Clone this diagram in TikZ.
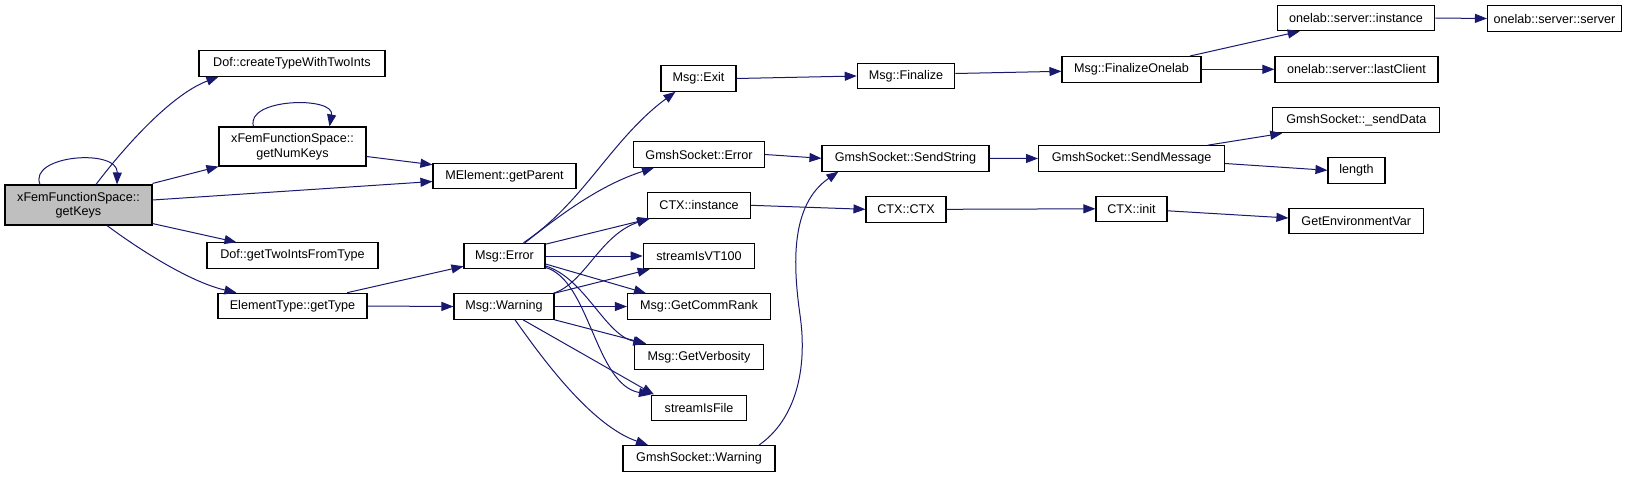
\documentclass[tikz,border=0pt]{standalone}
\usepackage{fontspec}
\setmainfont{Liberation Sans}
\usetikzlibrary{arrows.meta}
\definecolor{edgeblue}{RGB}{25,25,112}
\definecolor{focusgray}{RGB}{191,191,191}

\begin{document}
\begin{tikzpicture}[x=1pt,y=-1pt,
  fn/.style={draw=black,line width=1.1pt,fill=white,inner sep=0pt,minimum height=25.5pt,align=center,font=\fontsize{12.6}{14.5}\selectfont},
  call/.style={edgeblue,line width=1pt,-{Triangle[length=12pt,width=9pt]}}]
\useasboundingbox[fill=white] (0,0) rectangle (1637,477);
% Functions
\node[fn,fill=focusgray,minimum width=147pt,minimum height=40pt] (getKeys) at (78.5,205) {xFemFunctionSpace::\\getKeys};
\node[fn,minimum width=186pt] (createType) at (292,63.5) {Dof::createTypeWithTwoInts};
\node[fn,minimum width=147pt,minimum height=39pt] (getNumKeys) at (292.5,146.5) {xFemFunctionSpace::\\getNumKeys};
\node[fn,minimum width=143pt] (getParent) at (504.5,176) {MElement::getParent};
\node[fn,minimum width=171pt] (getTwoInts) at (292.5,255.5) {Dof::getTwoIntsFromType};
\node[fn,minimum width=149pt] (getType) at (292.5,306) {ElementType::getType};
\node[fn,minimum width=81pt] (msgError) at (504.5,256) {Msg::Error};
\node[fn,minimum width=100pt] (msgWarning) at (504,306.5) {Msg::Warning};
\node[fn,minimum width=75pt] (msgExit) at (698.5,78.5) {Msg::Exit};
\node[fn,minimum width=97.5pt] (msgFinalize) at (906,76) {Msg::Finalize};
\node[fn,minimum width=131pt] (gsError) at (699,154.5) {GmshSocket::Error};
\node[fn,minimum width=167pt] (sendString) at (905.5,158.3) {GmshSocket::SendString};
\node[fn,minimum width=103pt] (ctxInstance) at (699,205.3) {CTX::instance};
\node[fn,minimum width=80pt] (ctxCtx) at (906,209.3) {CTX::CTX};
\node[fn,minimum width=111.6pt] (vt100) at (699,256) {streamIsVT100};
\node[fn,minimum width=143pt] (commRank) at (699,306.5) {Msg::GetCommRank};
\node[fn,minimum width=128.4pt] (verbosity) at (699,357) {Msg::GetVerbosity};
\node[fn,minimum width=95pt] (isFile) at (699,407.8) {streamIsFile};
\node[fn,minimum width=152pt] (gsWarning) at (699,458.3) {GmshSocket::Warning};
\node[fn,minimum width=139pt] (finalizeOnelab) at (1131.5,69.3) {Msg::FinalizeOnelab};
\node[fn,minimum width=186pt] (sendMessage) at (1131.6,158.5) {GmshSocket::SendMessage};
\node[fn,minimum width=71pt] (ctxInit) at (1131.5,208.8) {CTX::init};
\node[fn,minimum width=157.5pt] (osInstance) at (1356,18) {onelab::server::instance};
\node[fn,minimum width=134pt] (osServer) at (1554.5,18.5) {onelab::server::server};
\node[fn,minimum width=163pt] (lastClient) at (1356.5,69.3) {onelab::server::lastClient};
\node[fn,minimum width=167pt] (sendData) at (1356.3,120) {GmshSocket::\_sendData};
\node[fn,minimum width=57pt] (len) at (1356.5,170.3) {length};
\node[fn,minimum width=134.7pt] (getEnv) at (1356.3,221) {GetEnvironmentVar};
% Calls from getKeys
\draw[call] ([xshift=-38.5pt]getKeys.north) .. controls (28,155) and (118,148) .. ([xshift=38.5pt]getKeys.north);
\draw[call] ([xshift=17.5pt]getKeys.north) .. controls (122,150) and (170,95) .. ([xshift=20pt]createType.south west);
\draw[call] ([yshift=1pt]getKeys.north east) -- (getNumKeys.south west);
\draw[call] ([yshift=5pt]getKeys.east) -- ([yshift=-5.5pt]getParent.west);
\draw[call] ([yshift=2pt]getKeys.south east) -- ([xshift=30pt]getTwoInts.north west);
\draw[call] ([xshift=28.5pt]getKeys.south) .. controls (140,250) and (190,282) .. ([xshift=19pt]getType.north west);
% Calls from getNumKeys and getType
\draw[call] ([xshift=-39pt]getNumKeys.north) .. controls (245,98) and (335,96) .. ([xshift=37pt]getNumKeys.north);
\draw[call] ([yshift=-10pt]getNumKeys.east) -- ([yshift=-2pt]getParent.north west);
\draw[call] ([xshift=-20.5pt]getType.north east) -- ([yshift=3pt]msgError.south west);
\draw[call] (getType.east) -- (msgWarning.west);
% Calls from Msg::Error
\draw[call] ([xshift=19pt]msgError.north) .. controls (583.6,202.7) and (611.3,139.2) .. ([xshift=15pt]msgExit.south west);
\draw[call] ([xshift=20.5pt]msgError.north) .. controls (560,215) and (600,185) .. ([xshift=21pt]gsError.south west);
\draw[call] ([yshift=-1.5pt]msgError.north east) -- ([xshift=3pt]ctxInstance.south west);
\draw[call] (msgError.east) -- (vt100.west);
\draw[call] ([yshift=-8pt]msgError.east) -- ([xshift=19pt]commRank.north west);
\draw[call] ([yshift=-10pt]msgError.east) .. controls (585,278) and (605,335) .. ([xshift=11pt]verbosity.north west);
\draw[call] ([yshift=-11.5pt]msgError.east) .. controls (590,280) and (595,385) .. (isFile.north west);
% Calls from Msg::Warning
\draw[call] ([xshift=-1pt]msgWarning.north east) .. controls (585,283) and (600,235) .. ([xshift=2pt]ctxInstance.south west);
\draw[call] (msgWarning.north east) -- ([xshift=7pt]vt100.south west);
\draw[call] (msgWarning.east) -- (commRank.west);
\draw[call] (msgWarning.south east) -- ([xshift=12pt]verbosity.north west);
\draw[call] ([xshift=19pt]msgWarning.south) -- ([xshift=3pt]isFile.north west);
\draw[call] ([xshift=11pt]msgWarning.south) .. controls (540,355) and (590,425) .. ([xshift=25.5pt]gsWarning.north west);
\draw[call] ([xshift=-16.5pt]gsWarning.north east) .. controls (795,420) and (808,370) .. (800,315) .. controls (793,265) and (790,205) .. ([xshift=17pt]sendString.south west);
% Further calls
\draw[call] (msgExit.east) -- (msgFinalize.west);
\draw[call] (gsError.east) -- (sendString.west);
\draw[call] (ctxInstance.east) -- (ctxCtx.west);
\draw[call] ([yshift=2.5pt]msgFinalize.east) -- ([yshift=-2pt]finalizeOnelab.west);
\draw[call] (sendString.east) -- (sendMessage.west);
\draw[call] (ctxCtx.east) -- (ctxInit.west);
\draw[call] ([xshift=-11.5pt]finalizeOnelab.north east) -- ([xshift=23pt]osInstance.south west);
\draw[call] (finalizeOnelab.east) -- (lastClient.west);
\draw[call] (osInstance.east) -- (osServer.west);
\draw[call] ([xshift=-17.5pt]sendMessage.north east) -- ([xshift=10pt]sendData.south west);
\draw[call] ([yshift=-5pt]sendMessage.east) -- (len.west);
\draw[call] ([yshift=-2pt]ctxInit.east) -- ([yshift=3pt]getEnv.west);
\end{tikzpicture}
\end{document}
